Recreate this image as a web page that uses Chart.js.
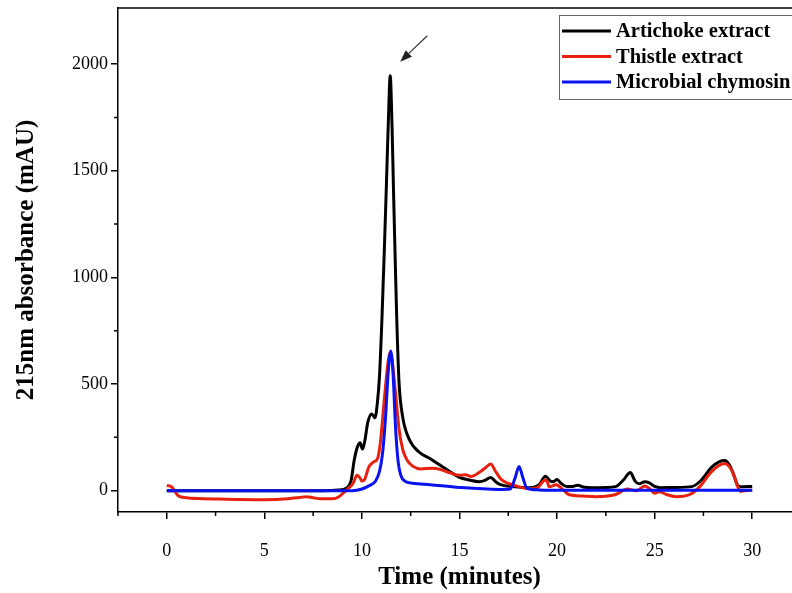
<!DOCTYPE html>
<html>
<head>
<meta charset="utf-8">
<script src="https://cdn.jsdelivr.net/npm/chart.js@4.4.0/dist/chart.umd.min.js"></script>
<style>
  html, body { margin: 0; padding: 0; background: #fff; }
  #wrap { width: 792px; height: 593px; overflow: hidden; position: relative; }
  canvas { display: block; }
</style>
</head>
<body>
<div id="wrap"><canvas id="chart" width="810" height="593"></canvas></div>
<script>
// series labels
const seriesNames = ["Artichoke extract", "Thistle extract", "Microbial chymosin"];
const seriesColors = ["#000000", "#e8210e", "#0a12f0"];

// Artichoke extract (black)
const artTime = [0, 8.0, 8.8, 9.2, 9.45, 9.6, 9.75, 9.9, 10.03, 10.15, 10.3, 10.5, 10.67, 10.8, 10.9, 11.03, 11.15, 11.25, 11.35, 11.45, 11.54, 11.62, 11.69, 11.78, 11.9, 12.08, 12.43, 12.94, 13.5, 14.0, 14.5, 15.0, 15.5, 16.0, 16.3, 16.6, 16.85, 17.1, 17.7, 18.6, 19.1, 19.4, 19.65, 19.8, 20.0, 20.2, 20.5, 20.8, 21.05, 21.4, 21.8, 22.5, 23.0, 23.4, 23.75, 24.0, 24.2, 24.5, 24.7, 25.0, 25.3, 26.0, 26.9, 27.4, 27.9, 28.3, 28.6, 28.85, 29.05, 29.25, 29.4, 30.0];
const artAbs  = [0, 0, 3, 12, 50, 140, 200, 225, 195, 235, 320, 360, 342, 420, 536, 817, 1135, 1420, 1720, 1945, 1720, 1400, 1140, 820, 510, 350, 240, 180, 150, 120, 90, 62, 50, 42, 48, 62, 42, 28, 19, 14, 30, 68, 45, 42, 52, 35, 19, 20, 25, 16, 14, 15, 19, 50, 85, 45, 32, 42, 38, 20, 14, 15, 19, 50, 108, 135, 141, 118, 75, 25, 18, 20];

// Thistle extract (red)
const thiTime = [0, 0.25, 0.6, 1.0, 1.65, 3.0, 5.0, 6.2, 6.8, 7.15, 7.5, 7.9, 8.5, 8.8, 9.05, 9.35, 9.55, 9.75, 9.9, 10.0, 10.15, 10.35, 10.6, 10.8, 10.95, 11.1, 11.25, 11.35, 11.45, 11.55, 11.7, 11.9, 12.1, 12.3, 12.6, 13.0, 13.6, 14.0, 14.5, 15.0, 15.3, 15.6, 16.0, 16.3, 16.6, 16.85, 17.15, 17.7, 18.6, 19.0, 19.3, 19.45, 19.6, 19.95, 20.3, 20.6, 21.3, 22.0, 22.6, 23.0, 23.6, 24.05, 24.5, 24.8, 25.0, 25.25, 25.6, 26.1, 26.8, 27.3, 27.9, 28.3, 28.6, 28.85, 29.05, 29.25, 29.4, 29.6, 30.0];
const thiAbs  = [25, 18, -25, -33, -37, -40, -42, -38, -32, -28, -33, -38, -38, -30, -10, 15, 35, 72, 60, 45, 55, 110, 135, 150, 230, 380, 530, 610, 650, 610, 480, 290, 190, 145, 115, 102, 105, 100, 84, 72, 75, 66, 85, 105, 125, 90, 52, 28, 9, 14, 45, 50, 18, 28, 5, -18, -25, -28, -25, -18, 8, 0, 22, 5, -12, -5, -18, -28, -18, 18, 88, 118, 127, 110, 75, 20, -3, 0, 2];

// Microbial chymosin (blue)
const chyTime = [0, 9.5, 10.0, 10.4, 10.7, 10.9, 11.05, 11.2, 11.35, 11.48, 11.6, 11.72, 11.85, 12.0, 12.2, 12.6, 13.5, 15.0, 17.0, 17.6, 17.85, 18.05, 18.25, 18.45, 19.0, 20.0, 30.0];
const chyAbs  = [0, 0, 8, 25, 45, 90, 170, 330, 560, 655, 540, 300, 140, 70, 45, 35, 28, 15, 6, 8, 60, 113, 60, 12, 4, 2, 2];

// axes
const xTicks = [0, 5, 10, 15, 20, 25, 30];
const xMinor = [-2.5, 2.5, 7.5, 12.5, 17.5, 22.5, 27.5];
const yTicks = [0, 500, 1000, 1500, 2000];
const yMinor = [250, 750, 1250, 1750];

// arrow pointing at the main peak (data coords: tail, head)
const arrowTail = [13.35, 2133];
const arrowHead = [11.96, 2011];

const serif = "'Liberation Serif', 'Times New Roman', serif";
Chart.defaults.font.family = serif;
Chart.defaults.color = "#000";

function pts(t, v) {
  return t.map((x, i) => ({ x: x, y: v[i] }));
}

// frame, minor ticks, arrow
const extras = {
  id: "extras",
  afterDraw(chart) {
    const ctx = chart.ctx;
    const a = chart.chartArea;
    const xs = chart.scales.x, ys = chart.scales.y;
    ctx.save();
    ctx.strokeStyle = "#000";
    ctx.lineWidth = 1.5;
    ctx.beginPath();
    ctx.moveTo(a.left, a.top);
    ctx.lineTo(a.right, a.top);
    ctx.stroke();
    ctx.beginPath();
    xMinor.forEach(v => {
      const p = xs.getPixelForValue(v);
      ctx.moveTo(p, a.bottom);
      ctx.lineTo(p, a.bottom + 4);
    });
    yMinor.forEach(v => {
      const p = ys.getPixelForValue(v);
      ctx.moveTo(a.left, p);
      ctx.lineTo(a.left - 4, p);
    });
    ctx.stroke();

    // arrow
    const x1 = xs.getPixelForValue(arrowTail[0]), y1 = ys.getPixelForValue(arrowTail[1]);
    const x2 = xs.getPixelForValue(arrowHead[0]), y2 = ys.getPixelForValue(arrowHead[1]);
    const ang = Math.atan2(y2 - y1, x2 - x1);
    const hl = 12, hw = 4.5;
    const bx = x2 - hl * Math.cos(ang), by = y2 - hl * Math.sin(ang);
    ctx.strokeStyle = "#333";
    ctx.fillStyle = "#222";
    ctx.lineWidth = 1.2;
    ctx.beginPath();
    ctx.moveTo(x1, y1);
    ctx.lineTo(bx, by);
    ctx.stroke();
    ctx.beginPath();
    ctx.moveTo(x2, y2);
    ctx.lineTo(bx + hw * Math.sin(ang), by - hw * Math.cos(ang));
    ctx.lineTo(bx - hw * Math.sin(ang), by + hw * Math.cos(ang));
    ctx.closePath();
    ctx.fill();
    ctx.restore();
  }
};

// legend box in the top right corner
const legendBox = {
  id: "legendBox",
  afterDraw(chart) {
    const ctx = chart.ctx;
    const left = 559.5, top = 15.5, w = 300, h = 84;
    ctx.save();
    ctx.fillStyle = "#fff";
    ctx.fillRect(left, top, w, h);
    ctx.strokeStyle = "#666";
    ctx.lineWidth = 1;
    ctx.strokeRect(left, top, w, h);
    ctx.font = "bold 20.5px " + serif;
    ctx.textBaseline = "middle";
    chart.data.datasets.forEach((ds, i) => {
      const y = 31 + i * 25.5;
      ctx.strokeStyle = ds.borderColor;
      ctx.lineWidth = 3;
      ctx.beginPath();
      ctx.moveTo(562, y);
      ctx.lineTo(611, y);
      ctx.stroke();
      ctx.fillStyle = "#000";
      ctx.fillText(ds.label, 616, y + 1);
    });
    ctx.restore();
  }
};

const lineStyle = {
  borderWidth: 3,
  pointRadius: 0,
  fill: false,
  cubicInterpolationMode: "monotone"
};

new Chart(document.getElementById("chart"), {
  type: "line",
  data: {
    datasets: [
      Object.assign({ label: seriesNames[0], data: pts(artTime, artAbs), borderColor: seriesColors[0], order: 3 }, lineStyle),
      Object.assign({ label: seriesNames[1], data: pts(thiTime, thiAbs), borderColor: seriesColors[1], order: 2 }, lineStyle),
      Object.assign({ label: seriesNames[2], data: pts(chyTime, chyAbs), borderColor: seriesColors[2], order: 1 }, lineStyle)
    ]
  },
  options: {
    responsive: false,
    animation: false,
    events: [],
    layout: { padding: { top: 8, right: 9, left: 0, bottom: 0 } },
    plugins: { legend: { display: false }, tooltip: { enabled: false } },
    scales: {
      x: {
        type: "linear",
        min: -2.5,
        max: 32.5,
        afterBuildTicks: s => { s.ticks = xTicks.map(v => ({ value: v })); },
        afterFit: s => { s.height = 81; s.paddingLeft = 0; s.paddingRight = 0; },
        grid: { drawOnChartArea: false, drawTicks: true, tickLength: 7, color: "#000", lineWidth: 1.5 },
        border: { display: true, color: "#000", width: 1.5 },
        ticks: { font: { size: 18 }, padding: 21, maxRotation: 0, callback: v => String(v) },
        title: { display: true, text: "Time (minutes)", font: { size: 25, weight: "bold" }, padding: { top: 0, bottom: 0 } }
      },
      y: {
        type: "linear",
        min: -100,
        max: 2263,
        afterBuildTicks: s => { s.ticks = yTicks.map(v => ({ value: v })); },
        afterFit: s => { s.width = 118; s.paddingTop = 0; s.paddingBottom = 0; },
        grid: { drawOnChartArea: false, drawTicks: true, tickLength: 7, color: "#000", lineWidth: 1.5 },
        border: { display: true, color: "#000", width: 1.5 },
        ticks: { font: { size: 18 }, padding: 3, callback: v => String(v) },
        title: { display: true, text: "215nm absorbance (mAU)", font: { size: 25, weight: "bold" }, padding: { top: 12, bottom: 0 } }
      }
    }
  },
  plugins: [extras, legendBox]
});
</script>
</body>
</html>
